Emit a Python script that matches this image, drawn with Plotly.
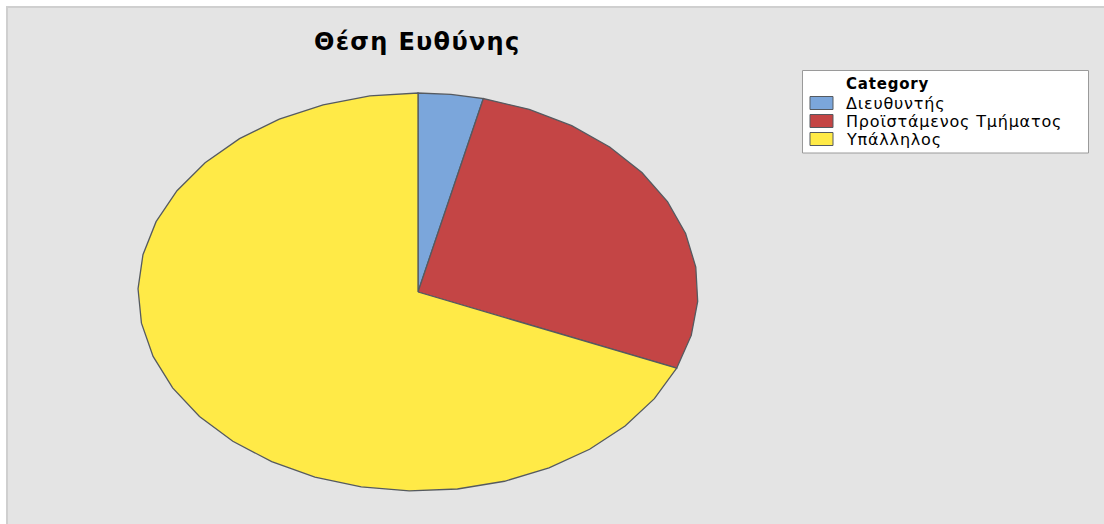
import math
import plotly.graph_objects as go

# Position held ("Θέση Ευθύνης") – respondents per category
categories = ["Διευθυντής", "Προϊστάμενος Τμήματος", "Υπάλληλος"]
counts = [3, 22, 55]
colors = ["#7BA6DB", "#C44545", "#FFEA47"]
chart_title = "Θέση Ευθύνης"
legend_title = "Category"

W, H = 1104, 524
CX, CY = 418, 292      # pie centre, pixels from top-left
RX, RY = 280, 199      # pixels per data unit along x and y (gives the oval pie)
EDGE = "#555A60"
FONT = "DejaVu Sans"


def px(x):
    return x / W


def py(y):
    return 1 - y / H


def spaced(text, gap):
    return "<span style='letter-spacing:%.1fpx'>%s</span>" % (gap, text)


fig = go.Figure()

# Each slice is a polygon on the unit circle; the unequal axis scales stretch it
total = sum(counts)
start = 0.0
for name, n, col in zip(categories, counts, colors):
    sweep = 360.0 * n / total
    steps = max(1, math.ceil(sweep / 10))
    angles = [start + sweep * k / steps for k in range(steps + 1)]
    xs = [0.0] + [math.sin(math.radians(a)) for a in angles] + [0.0]
    ys = [0.0] + [math.cos(math.radians(a)) for a in angles] + [0.0]
    fig.add_trace(go.Scatter(
        x=xs, y=ys, mode="lines", fill="toself", fillcolor=col,
        line=dict(color=EDGE, width=1.3), name=name,
        showlegend=False, hoverinfo="name",
    ))
    start += sweep

shapes = [
    # grey panel with light frame
    dict(type="rect", xref="paper", yref="paper", layer="below",
         x0=px(7), x1=px(W + 10), y0=py(H + 10), y1=py(7),
         fillcolor="#E4E4E4", line=dict(color="#CFCFCF", width=2)),
    # legend box
    dict(type="rect", xref="paper", yref="paper",
         x0=px(802.5), x1=px(1088.5), y0=py(153), y1=py(70.5),
         fillcolor="white", line=dict(color="#9A9A9A", width=1)),
]
annotations = [
    dict(text="<b>" + spaced(chart_title, 1.3) + "</b>", xref="paper", yref="paper",
         x=px(417), y=py(42), xanchor="center", yanchor="middle",
         showarrow=False, font=dict(family=FONT, size=24, color="black")),
    dict(text="<b>" + spaced(legend_title, 0.8) + "</b>", xref="paper", yref="paper",
         x=px(844), y=py(84), xanchor="left", yanchor="middle",
         showarrow=False, font=dict(family=FONT, size=15, color="black")),
]
for i, (name, col) in enumerate(zip(categories, colors)):
    yc = 103 + 18 * i
    shapes.append(dict(type="rect", xref="paper", yref="paper",
                       x0=px(810), x1=px(833), y0=py(yc + 6.5), y1=py(yc - 6.5),
                       fillcolor=col, line=dict(color=EDGE, width=1)))
    annotations.append(dict(text=spaced(name, 0.8), xref="paper", yref="paper",
                            x=px(844), y=py(yc), xanchor="left", yanchor="middle",
                            showarrow=False,
                            font=dict(family=FONT, size=16, color="black")))

fig.update_layout(
    width=W, height=H,
    margin=dict(l=0, r=0, t=0, b=0),
    paper_bgcolor="white",
    plot_bgcolor="rgba(0,0,0,0)",
    showlegend=False,
    xaxis=dict(range=[-CX / RX, (W - CX) / RX], domain=[0, 1], visible=False,
               fixedrange=True),
    yaxis=dict(range=[-(H - CY) / RY, CY / RY], domain=[0, 1], visible=False,
               fixedrange=True),
    shapes=shapes,
    annotations=annotations,
)

fig.write_html("out.html")
